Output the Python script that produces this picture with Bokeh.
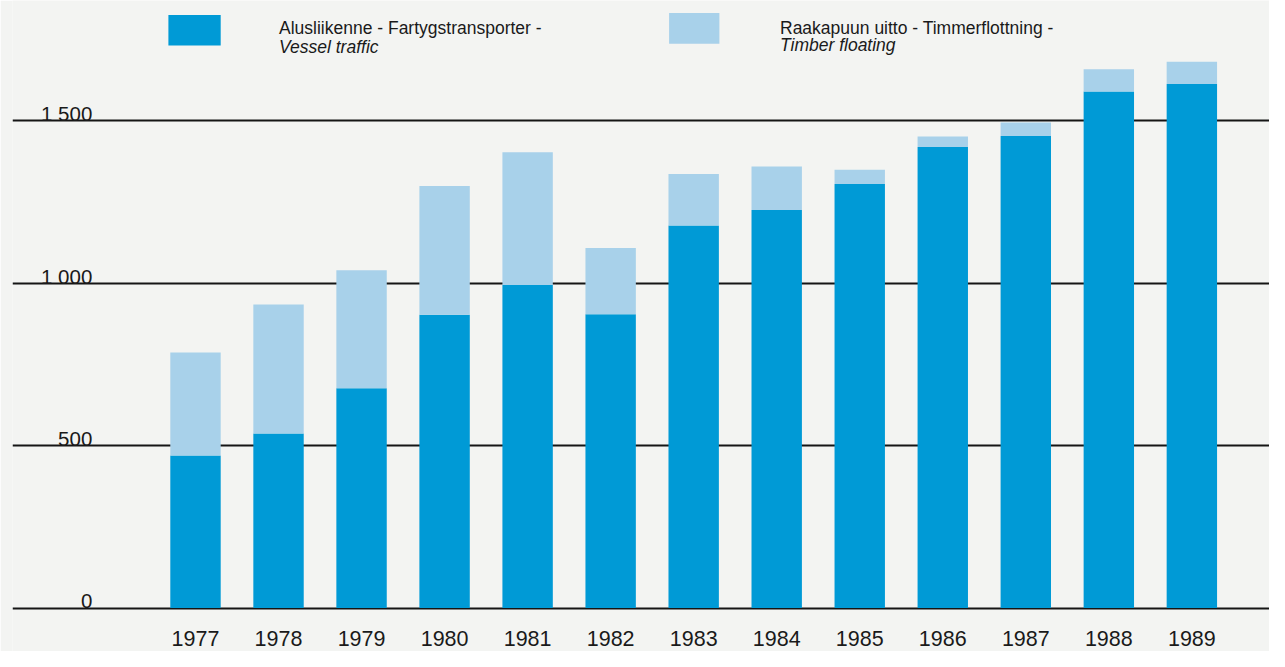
from bokeh.plotting import figure
from bokeh.models import ColumnDataSource, Range1d, FixedTicker
from bokeh.core.properties import value
from bokeh.embed import file_html
from bokeh.resources import INLINE

# ---- data ----
years = [1977, 1978, 1979, 1980, 1981, 1982, 1983, 1984, 1985, 1986, 1987, 1988, 1989]
vessel_traffic = [470, 538, 677, 903, 995, 905, 1178, 1226, 1306, 1420, 1454, 1591, 1614]
timber_floating = [317, 397, 363, 397, 409, 204, 159, 134, 44, 32, 41, 68, 68]
y_ticks = [0, 500, 1000, 1500]
y_tick_labels = ["0", "500", "1 000", "1 500"]
year_labels = [str(y) for y in years]
legend_fi_sv = ["Alusliikenne - Fartygstransporter -", "Raakapuun uitto - Timmerflottning -"]
legend_en = ["Vessel traffic", "Timber floating"]

DARK = "#009ad6"
LIGHT = "#a8d1ea"
BG = "#f3f4f2"
INK = "#1a1a1a"
FONT = "Liberation Sans"

# ---- layout (figure pixels) ----
W, H = 1269, 651
LEFT = 12
FW = W - LEFT
FH = H
PX_X = 83.03          # px per year
PX_Y = 0.32475        # px per unit
X1977_PX = 195.0      # pixel column of the first bar centre
Y0_PX = 607.6         # pixel row of value 0
x_start = 1977 - (X1977_PX - LEFT) / PX_X
x_end = x_start + FW / PX_X
y_end = Y0_PX / PX_Y
y_start = y_end - FH / PX_Y


def xd(px):
    return x_start + (px - LEFT) / PX_X


def yd(py):
    return y_end - py / PX_Y


p = figure(width=W, height=H, output_backend="svg", toolbar_location=None,
           x_range=Range1d(x_start, x_end), y_range=Range1d(y_start, y_end),
           min_border_left=LEFT, min_border_right=0, min_border_top=0, min_border_bottom=0,
           background_fill_color=BG, border_fill_color=BG, outline_line_color=None)
p.xaxis.visible = False
p.yaxis.visible = False
p.xgrid.visible = False
p.ygrid.ticker = FixedTicker(ticks=y_ticks)
p.ygrid.grid_line_color = "#151515"
p.ygrid.grid_line_width = 1.8

src = ColumnDataSource(dict(year=years, vessel=vessel_traffic, timber=timber_floating))
p.vbar_stack(["vessel", "timber"], x="year", width=0.607, color=[DARK, LIGHT],
             line_color=None, source=src)

# y tick labels (above their grid lines)
p.text(x=[xd(91.8)] * len(y_ticks), y=y_ticks, text=y_tick_labels,
       text_align="right", text_baseline="alphabetic", y_offset=-7,
       text_font=value(FONT), text_font_size="20.5px", text_color=INK)

# year labels below the baseline
p.text(x=years, y=[0] * len(years), text=year_labels,
       text_align="center", text_baseline="middle", y_offset=30,
       text_font=value(FONT), text_font_size="21.5px", text_color=INK)

# legend
p.quad(left=[xd(167.9), xd(668.6)], right=[xd(220.2), xd(718.9)],
       top=[yd(14.6), yd(12.4)], bottom=[yd(44.9), yd(43.2)],
       color=[DARK, LIGHT], line_color=None)
p.text(x=[xd(278.5), xd(779.5)], y=[yd(27.5), yd(27.0)], text=legend_fi_sv,
       text_align="left", text_baseline="alphabetic",
       text_font=value(FONT), text_font_size="17.5px", text_color=INK)
p.text(x=[xd(278.5), xd(779.5)], y=[yd(46.0), yd(44.5)], text=legend_en,
       text_align="left", text_baseline="alphabetic", text_font_style="italic",
       text_font=value(FONT), text_font_size="17.5px", text_color=INK)

open("out.html", "w").write(file_html(p, INLINE))
